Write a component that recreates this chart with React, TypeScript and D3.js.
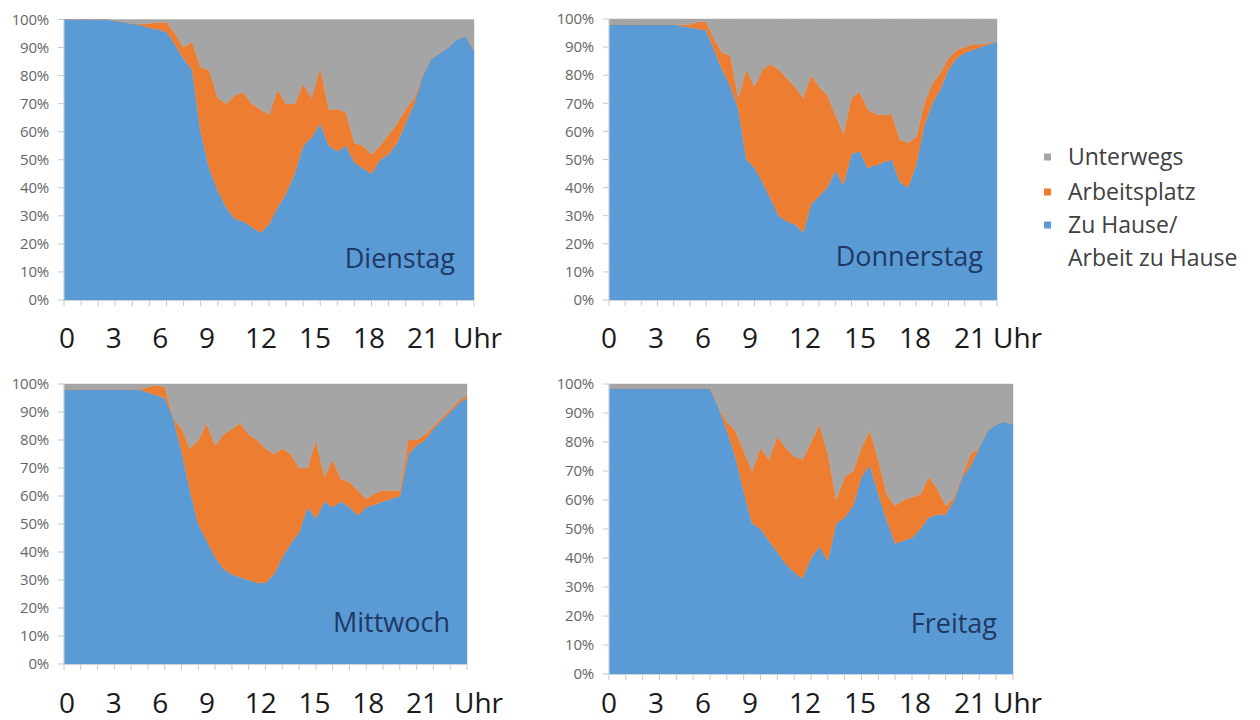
import React from 'react';
import * as d3 from 'd3';

// time of day in hours (half-hour steps)
const HOURS = [0,0.5,1,1.5,2,2.5,3,3.5,4,4.5,5,5.5,6,6.5,7,7.5,8,8.5,9,9.5,10,10.5,11,11.5,12,12.5,13,13.5,14,14.5,15,15.5,16,16.5,17,17.5,18,18.5,19,19.5,20,20.5,21,21.5,22,22.5,23,23.5,24];

// share (%) "Zu Hause / Arbeit zu Hause" and "Arbeitsplatz"; rest = "Unterwegs"
const DIENSTAG_HOME = [100,100,100,100,100,100,99.5,99,98.5,98,97,96.5,95.5,91,86,82,60,47,39,33,29,28,26,24,27,33,38,45,55,58,63,55,53,55,49,47,45,50,52,56,63,70,80,86,88,90,93,94,89];
const DIENSTAG_WORK = [0,0,0,0,0,0,0,0,0,0.5,1.5,2.5,3.5,4,4,10,23,35,33,37,44,46,44,44,39,42,32,25,22,14,20,13,15,12,7,8,7,5,7,7,5,2,0,0,0,0,0,0,0];

const DONNERSTAG_HOME = [98,98,98,98,98,98,98,98,98,97.5,97,96.5,96,89,82,76,68,50,47,42,36,30,28,27,24,34,37,40,46,41,52,53,47,48,49,50,42,40,48,62,70,75,82,86,88,89,90,91,92];
const DONNERSTAG_WORK = [0,0,0,0,0,0,0,0,0,0.5,1,2.5,3,4,6,11,4,32,29,40,48,52,51,49,48,46,39,33,20,18,20,21,21,18,17,16,15,16,10,8,7,6,4,3,2,2,1,0.5,0];

const MITTWOCH_HOME = [98,98,98,98,98,98,98,98,98,98,97,96,95,88,76,62,50,44,38,34,32,31,30,29,29,32,38,43,47,56,52,58,56,58,56,53,56,57,58,59,60,75,78,80,84,87,90,93,95];
const MITTWOCH_WORK = [0,0,0,0,0,0,0,0,0,0,2,3.5,4,0,8,15,30,42,40,48,52,55,52,51,48,43,39,32,23,14,28,9,17,8,9,9,3,4,4,3,2,5,2,2,1,1,1,1,1];

const FREITAG_HOME = [98.5,98.5,98.5,98.5,98.5,98.5,98.5,98.5,98.5,98.5,98.5,98.5,98.5,92,84,75,63,52,50,46,42,38,35,33,40,44,39,52,54,58,68,72,62,53,45,46,47,50,54,55,55,60,68,72,78,84,86,87,86];
const FREITAG_WORK = [0,0,0,0,0,0,0,0,0,0,0,0,0,0,3,9,14,18,28,28,40,40,40,41,40,42,37,8,14,12,10,12,12,9,13,14,14,12,14,9,3,1,1,4,0,0,0,0,0];

const DAY_NAMES = ['Dienstag', 'Donnerstag', 'Mittwoch', 'Freitag'];
const SERIES_KEYS = ['home', 'work', 'travel'];
const LEGEND_KEYS = ['travel', 'work', 'home'];
const LEGEND_LABELS = [['Unterwegs'], ['Arbeitsplatz'], ['Zu Hause/', 'Arbeit zu Hause']];
const Y_TICKS = [0,10,20,30,40,50,60,70,80,90,100];
const X_LABEL_HOURS = [0,3,6,9,12,15,18,21];
const HOUR_TICKS = [0,1,2,3,4,5,6,7,8,9,10,11,12,13,14,15,16,17,18,19,20,21,22,23,24];
const UNIT_LABEL = 'Uhr';

const COLORS: Record<string, string> = { home: '#5B9BD5', work: '#ED7D31', travel: '#A5A5A5' };
const FONT = '"Open Sans", "DejaVu Sans", sans-serif';

const DATA = [
  [DIENSTAG_HOME, DIENSTAG_WORK],
  [DONNERSTAG_HOME, DONNERSTAG_WORK],
  [MITTWOCH_HOME, MITTWOCH_WORK],
  [FREITAG_HOME, FREITAG_WORK],
];

// layout of each panel
const LAYOUT = [
  { left: 64, right: 474, top: 19.5, bottom: 300, lab: [67, 207, 423], labY: 348, uhr: 30, titleY: 268, titlePad: 19 },
  { left: 609, right: 997, top: 19, bottom: 300, lab: [609, 750, 970], labY: 348, uhr: 23, titleY: 266, titlePad: 14 },
  { left: 64, right: 467, top: 384, bottom: 664, lab: [67, 207, 422], labY: 713, uhr: 32, titleY: 632, titlePad: 17 },
  { left: 609, right: 1013, top: 384, bottom: 674, lab: [609, 750, 970], labY: 713, uhr: 23, titleY: 633, titlePad: 16 },
];

function Panel({ idx }: { idx: number }) {
  const L = LAYOUT[idx];
  const [home, work] = DATA[idx];
  const rows = HOURS.map((h, i) => ({ hour: h, home: home[i], work: work[i], travel: Math.max(0, 100 - home[i] - work[i]) }));
  const stack = d3.stack<any>().keys(SERIES_KEYS);
  const layers = stack(rows);
  const x = d3.scaleLinear().domain([0, 24]).range([L.left, L.right]);
  const y = d3.scaleLinear().domain([0, 100]).range([L.bottom, L.top]);
  const labX = d3.scaleLinear().domain([0, 9, 21]).range(L.lab);
  const area = d3.area<any>()
    .x((d) => x(d.data.hour))
    .y0((d) => y(d[0]))
    .y1((d) => y(d[1]))
    .curve(d3.curveLinear);

  return (
    <g>
      {layers.map((layer) => (
        <path key={layer.key} d={area(layer as any) || ''} fill={COLORS[layer.key]} stroke={COLORS[layer.key]} strokeWidth={0.4} />
      ))}
      {/* axes */}
      <line x1={L.left} x2={L.left} y1={L.top} y2={L.bottom} stroke="#d0d8e4" strokeWidth={1} />
      <line x1={L.left} x2={L.right} y1={L.bottom + 0.5} y2={L.bottom + 0.5} stroke="#c9d3e0" strokeWidth={1} />
      {Y_TICKS.map((t) => (
        <g key={t}>
          <line x1={L.left - 6} x2={L.left} y1={y(t)} y2={y(t)} stroke="#c8c8c8" strokeWidth={1} />
          <text x={L.left - 15} y={y(t)} dy="0.35em" textAnchor="end" fontFamily={FONT} fontSize={15} fill="#666" letterSpacing={-0.2}>
            {t}%
          </text>
        </g>
      ))}
      {HOUR_TICKS.map((h) => (
        <line key={h} x1={x(h)} x2={x(h)} y1={L.bottom} y2={L.bottom + 6} stroke="#c8c8c8" strokeWidth={1} />
      ))}
      {X_LABEL_HOURS.map((h) => (
        <text key={h} x={labX(h)} y={L.labY} textAnchor="middle" fontFamily={FONT} fontSize={28} fill="#1a1a1a">
          {h}
        </text>
      ))}
      <text x={labX(21) + L.uhr} y={L.labY} textAnchor="start" fontFamily={FONT} fontSize={28} fill="#1a1a1a">
        {UNIT_LABEL}
      </text>
      <text x={L.right - L.titlePad} y={L.titleY} textAnchor="end" fontFamily={FONT} fontSize={27} fill="#1F3864">
        {DAY_NAMES[idx]}
      </text>
    </g>
  );
}

function Legend() {
  const rowsY = [157, 192, 225];
  return (
    <g>
      {LEGEND_KEYS.map((k, i) => (
        <g key={k}>
          <rect x={1044} y={rowsY[i] - 3.5} width={7} height={7} fill={COLORS[k]} />
          {LEGEND_LABELS[i].map((line, j) => (
            <text key={j} x={1068} y={rowsY[i] + j * 33} dy="0.35em" fontFamily={FONT} fontSize={23} fill="#404040">
              {line}
            </text>
          ))}
        </g>
      ))}
    </g>
  );
}

export default function App() {
  return (
    <svg width={1260} height={720} style={{ position: 'absolute', left: 0, top: 0, background: '#fff' }}>
      <rect x={0} y={0} width={1260} height={720} fill="#fff" />
      {DAY_NAMES.map((_, i) => (
        <Panel key={i} idx={i} />
      ))}
      <Legend />
    </svg>
  );
}
